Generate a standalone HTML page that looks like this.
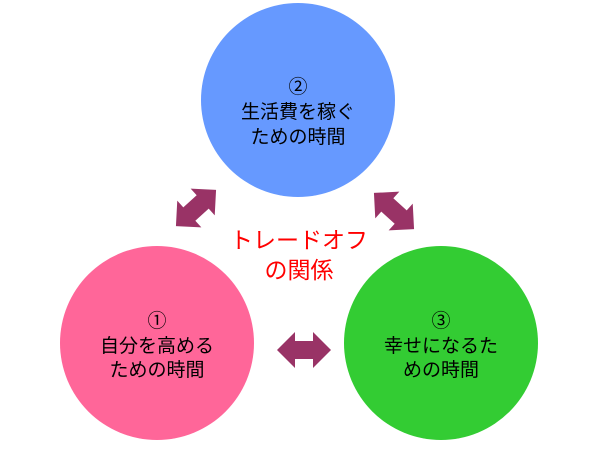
<!DOCTYPE html>
<html><head><meta charset="utf-8"><style>
body{margin:0;width:600px;height:450px;background:#fff;overflow:hidden}
text{font-family:"Liberation Sans","Noto Sans CJK JP",sans-serif}
</style></head><body>
<svg width="600" height="450" viewBox="0 0 600 450">
<circle cx="298" cy="100" r="97" fill="#6699FF"/>
<circle cx="157" cy="343" r="97" fill="#FF6699"/>
<circle cx="441" cy="343" r="97" fill="#33CC33"/>
<defs><polygon id="arr" points="-27,0 -9,-18 -9,-9 9,-9 9,-18 27,0 9,18 9,9 -9,9 -9,18" fill="#993366"/></defs>
<use href="#arr" transform="translate(304,350)"/>
<use href="#arr" transform="translate(196,208) rotate(-42)"/>
<use href="#arr" transform="translate(394,211) rotate(42)"/>
<g font-size="19" fill="#000" text-anchor="middle">
<text x="298" y="93">②</text><text x="298" y="118">生活費を稼ぐ</text><text x="298" y="143">ための時間</text>
<text x="157" y="327">①</text><text x="157" y="352">自分を高める</text><text x="157" y="376">ための時間</text>
<text x="441" y="327">③</text><text x="441" y="352">幸せになるた</text><text x="441" y="376">めの時間</text>
</g>
<g font-size="23" fill="#FF0000" text-anchor="middle">
<text x="299" y="248">トレードオフ</text><text x="299" y="278">の関係</text>
</g>
</svg>
</body></html>
